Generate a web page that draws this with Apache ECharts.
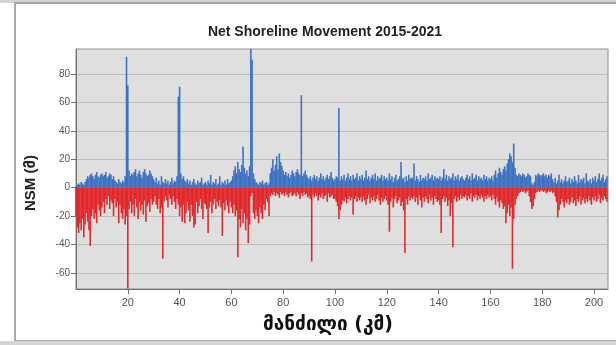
<!DOCTYPE html>
<html>
<head>
<meta charset="utf-8">
<script src="https://cdn.jsdelivr.net/npm/echarts@6/dist/echarts.min.js"></script>
<style>
html,body{margin:0;padding:0;background:#fff;}
#chart{width:616px;height:345px;}
</style>
</head>
<body>
<div id="chart"></div>
<script>
const titleText = 'Net Shoreline Movement 2015-2021';
const yName = 'NSM (მ)';
const xName = 'მანძილი (კმ)';
const stepKm = 0.5; // transect spacing (km)

// accretion (positive NSM, m) every 0.5 km from 0 km
const posValues = [
  1,2,3,2,4,3,2,4,6,8,7,9,10,8,6,9,11,8,7,9,
  10,8,9,11,7,8,10,9,6,8,5,4,3,6,4,3,5,4,8,92,
  72,12,8,10,9,11,13,8,10,12,9,7,11,13,10,8,9,12,10,8,
  6,4,7,3,5,2,8,4,3,6,3,5,2,4,7,3,5,4,8,64,
  71,10,6,8,5,4,6,3,5,2,4,6,3,2,5,3,4,7,2,3,
  4,2,5,3,9,2,4,3,6,2,3,8,2,4,3,5,2,6,3,4,
  5,8,12,15,10,18,13,11,16,29,14,10,12,8,15,98,90,10,6,4,
  3,2,4,3,5,2,3,4,2,3,10,14,20,12,16,22,13,24,18,15,
  12,9,11,8,10,7,9,12,10,8,11,13,10,9,65,8,10,12,9,7,
  6,8,5,7,9,6,8,5,7,10,6,8,5,7,9,6,8,11,7,5,
  6,8,7,56,5,8,6,9,5,7,10,6,8,5,9,6,7,10,5,8,
  6,9,5,7,12,6,8,5,7,9,6,10,5,8,6,7,9,5,8,6,
  7,5,10,6,8,4,7,9,5,6,8,18,6,7,4,8,5,9,6,7,
  7,17,5,8,6,4,9,5,7,6,8,5,10,6,7,9,5,8,6,7,
  6,8,5,7,13,6,9,5,8,6,7,10,5,8,6,9,5,7,8,6,
  5,7,9,6,8,5,10,6,7,9,5,8,6,7,5,9,6,8,5,7,
  6,8,5,9,12,7,10,14,11,9,13,15,12,17,20,24,22,18,31,14,
  9,8,10,9,8,10,9,7,8,10,9,8,3,2,4,9,8,10,9,8,
  9,10,8,9,7,9,8,10,6,4,7,3,5,9,4,6,3,5,8,4,
  5,7,3,6,4,8,5,3,9,4,6,5,7,3,10,5,4,6,3,7,
  5,8,4,6,10,5,7,9,4,6,8
];

// erosion (negative NSM, m) every 0.5 km from 0 km
const negValues = [
  -20,-28,-32,-25,-30,-22,-35,-26,-18,-24,-30,-41,-20,-15,-22,-18,-25,-12,-16,-20,
  -14,-10,-18,-8,-12,-6,-15,-9,-11,-20,-8,-14,-10,-25,-12,-18,-22,-15,-26,-20,
  -71,-15,-10,-18,-12,-20,-8,-14,-22,-10,-16,-12,-19,-9,-24,-13,-11,-17,-8,-12,
  -10,-6,-12,-15,-8,-18,-14,-50,-10,-6,-9,-14,-5,-8,-12,-6,-10,-15,-8,-12,
  -20,-14,-24,-12,-25,-18,-10,-16,-24,-12,-20,-28,-26,-10,-18,-13,-8,-15,-22,-11,
  -12,-15,-32,-14,-10,-18,-12,-8,-15,-10,-13,-9,-14,-34,-11,-16,-9,-13,-18,-10,
  -14,-18,-12,-20,-16,-49,-22,-28,-15,-25,-18,-30,-22,-39,-26,-6,-4,-18,-22,-16,
  -20,-25,-14,-18,-22,-12,-16,-8,-10,-20,-6,-4,-5,-3,-6,-4,-5,-7,-3,-5,
  -4,-6,-3,-5,-7,-4,-3,-6,-5,-4,-6,-3,-5,-8,-4,-6,-3,-5,-4,-7,
  -6,-8,-52,-5,-7,-4,-6,-9,-5,-7,-4,-8,-6,-5,-10,-4,-7,-6,-5,-8,
  -8,-10,-13,-22,-16,-12,-9,-10,-7,-11,-8,-6,-9,-7,-19,-8,-6,-10,-7,-9,
  -7,-10,-6,-9,-12,-8,-5,-11,-7,-9,-6,-10,-8,-5,-9,-12,-7,-10,-8,-6,
  -9,-12,-31,-10,-7,-14,-8,-6,-11,-9,-7,-13,-10,-16,-46,-8,-12,-6,-9,-7,
  -8,-6,-10,-7,-12,-5,-9,-14,-7,-10,-6,-8,-11,-5,-9,-7,-12,-6,-8,-10,
  -9,-12,-32,-8,-6,-10,-7,-13,-9,-20,-11,-42,-8,-6,-10,-7,-9,-5,-8,-6,
  -7,-5,-9,-6,-8,-4,-10,-6,-7,-5,-9,-6,-8,-5,-7,-10,-6,-8,-5,-7,
  -6,-9,-5,-8,-12,-7,-10,-14,-9,-11,-15,-13,-25,-18,-12,-20,-14,-57,-22,-12,
  -8,-6,-4,-3,-2,-3,-2,-4,-3,-2,-6,-10,-15,-13,-8,-4,-3,-2,-3,-2,
  -2,-3,-2,-4,-3,-2,-3,-2,-4,-3,-6,-10,-21,-16,-12,-8,-10,-14,-9,-11,
  -8,-12,-10,-7,-11,-9,-13,-8,-10,-6,-12,-9,-7,-11,-8,-10,-6,-9,-12,-7,
  -9,-6,-10,-8,-5,-11,-7,-9,-6,-8,-10
];

const posData = posValues.map((v, i) => [i * stepKm, v]);
const negData = negValues.map((v, i) => [i * stepKm, v]);

const chart = echarts.init(document.getElementById('chart'), null, {renderer: 'canvas'});
chart.setOption({
  animation: false,
  backgroundColor: '#ffffff',
  graphic: [
    {type: 'rect', z: -10, shape: {x: 0, y: 0, width: 616, height: 3},
     style: {fill: '#d4d4d4'}},
    {type: 'rect', z: -10, shape: {x: 15, y: 3, width: 610, height: 338},
     style: {fill: '#ffffff', stroke: '#a8a8a8', lineWidth: 2}},
    {type: 'rect', z: -10, shape: {x: 0, y: 341, width: 616, height: 4},
     style: {fill: '#d4d4d4'}},
    {type: 'text', x: 31, y: 183, rotation: Math.PI / 2,
     style: {text: yName, font: 'bold 15px "Liberation Sans", "DejaVu Sans", sans-serif',
             fill: '#222', textAlign: 'center', textVerticalAlign: 'middle'}},
    {type: 'text', x: 328, y: 325,
     style: {text: xName, font: 'bold 19px "DejaVu Sans", sans-serif',
             fill: '#111', textAlign: 'center', textVerticalAlign: 'middle'}}
  ],
  title: {
    text: titleText,
    left: 320, top: 20, textAlign: 'center',
    textStyle: {fontFamily: '"Liberation Sans", Arial, sans-serif', fontWeight: 'bold', fontSize: 14, color: '#222'}
  },
  grid: {
    left: 76, right: 8, top: 49, bottom: 56,
    show: true, backgroundColor: '#dfdfdf', borderColor: '#8c8c8c', borderWidth: 1
  },
  xAxis: {
    type: 'value', min: 0, max: 205.4, interval: 20,
    axisLine: {show: true, onZero: false, lineStyle: {color: '#707070'}},
    axisTick: {show: true, length: 5, lineStyle: {color: '#707070'}},
    axisLabel: {showMinLabel: false, showMaxLabel: false, color: '#555', fontSize: 11, margin: 8,
                fontFamily: '"Liberation Sans", Arial, sans-serif'},
    splitLine: {show: false}
  },
  yAxis: {
    type: 'value', min: -71.3, max: 97.5, minInterval: 20, maxInterval: 20, splitNumber: 8,
    axisLine: {show: true, lineStyle: {color: '#707070'}},
    axisTick: {show: true, length: 5, lineStyle: {color: '#707070'}},
    axisLabel: {showMinLabel: false, showMaxLabel: false, color: '#555', fontSize: 10, margin: 6,
                fontFamily: '"Liberation Sans", Arial, sans-serif'},
    splitLine: {show: true, lineStyle: {color: '#bcbcbc', width: 1}}
  },
  series: [
    {type: 'bar', name: 'pos', data: posData, barWidth: 1.6, barGap: '-100%',
     itemStyle: {color: '#3d72c2'}, silent: true},
    {type: 'bar', name: 'neg', data: negData, barWidth: 1.6, barGap: '-100%',
     itemStyle: {color: '#e2282b'}, silent: true}
  ]
});
</script>
</body>
</html>
